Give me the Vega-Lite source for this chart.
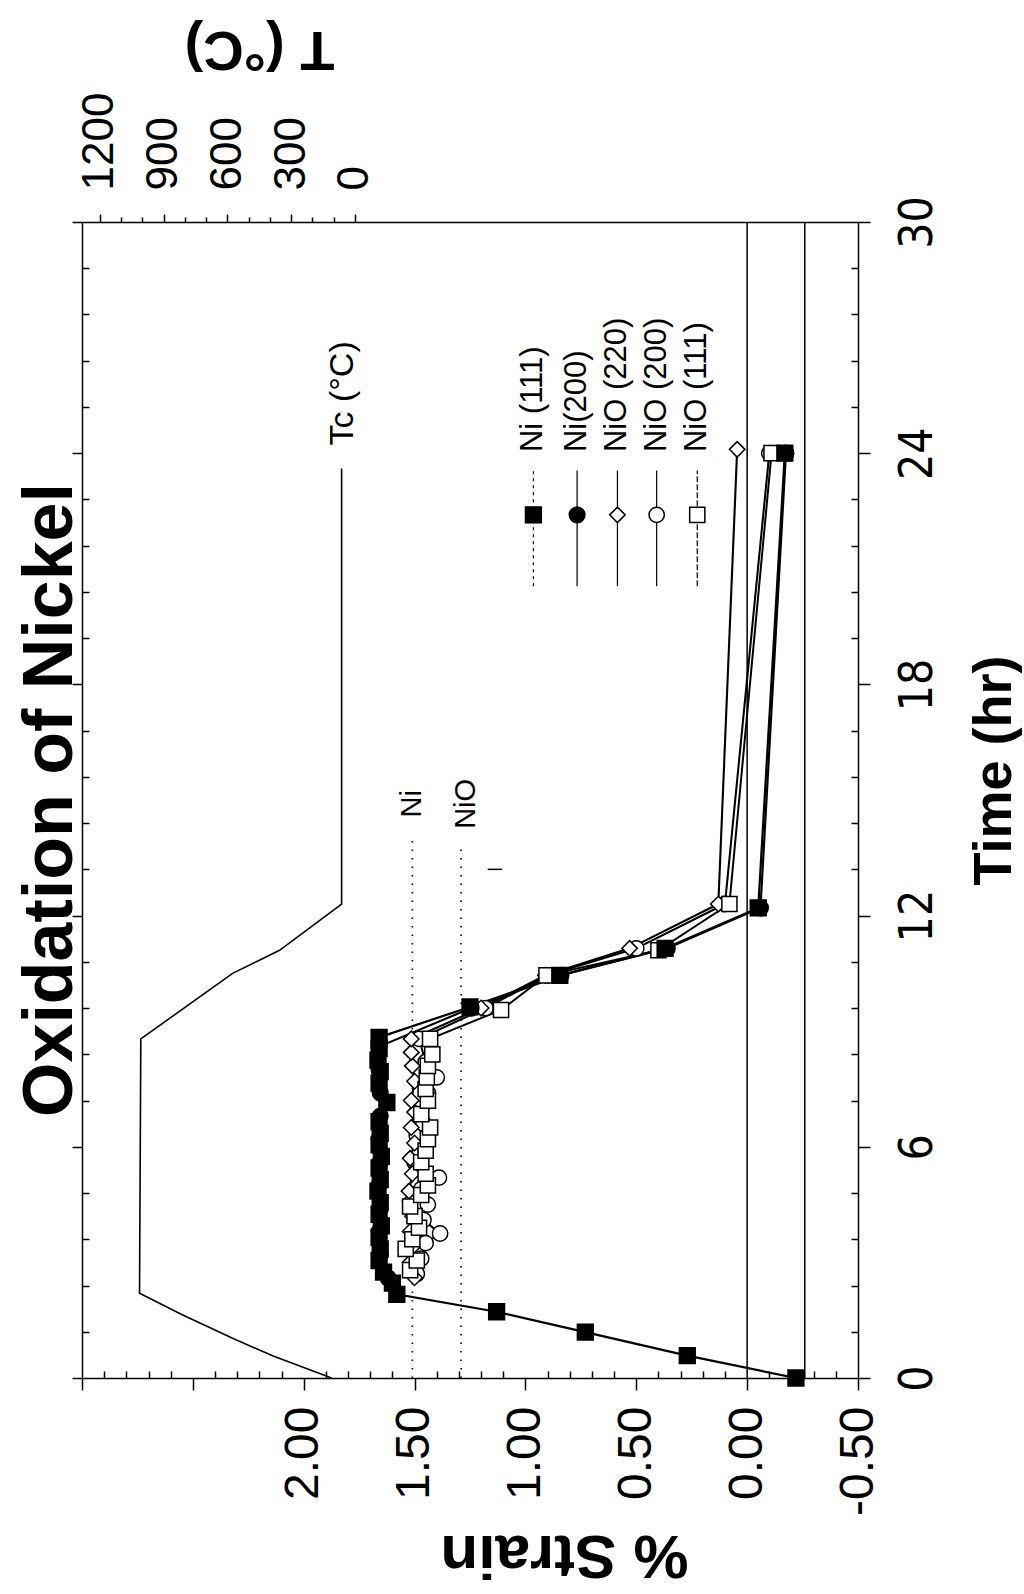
{
  "$schema": "https://vega.github.io/schema/vega-lite/v6.json",
  "width": 776,
  "height": 1156,
  "autosize": {"type": "none"},
  "padding": {"left": 82, "top": 222, "right": 166, "bottom": 216},
  "background": "white",
  "title": {"text": "Oxidation of Nickel", "orient": "left", "anchor": "middle", "baseline": "middle", "offset": -63, "fontSize": 70, "font": "Liberation Sans", "fontWeight": "bold", "color": "black"},
  "config": {
    "view": {"stroke": null},
    "axis": {"grid": false, "domainColor": "black", "domainWidth": 1.5, "tickColor": "black", "tickWidth": 1.5, "labelColor": "black", "titleColor": "black", "labelFont": "Liberation Sans", "titleFont": "Liberation Sans", "labelFlush": false, "labelOverlap": false, "labelBound": false}
  },
  "datasets": {
    "obs": [
      {"series": "NiO (200)", "t": 2.7, "s": 1.49},
      {"series": "NiO (200)", "t": 3.1, "s": 1.47},
      {"series": "NiO (200)", "t": 3.5, "s": 1.45},
      {"series": "NiO (200)", "t": 3.75, "s": 1.385},
      {"series": "NiO (200)", "t": 4.1, "s": 1.46},
      {"series": "NiO (200)", "t": 4.5, "s": 1.44},
      {"series": "NiO (200)", "t": 4.9, "s": 1.47},
      {"series": "NiO (200)", "t": 5.2, "s": 1.39},
      {"series": "NiO (200)", "t": 5.6, "s": 1.5},
      {"series": "NiO (200)", "t": 5.9, "s": 1.45},
      {"series": "NiO (200)", "t": 6.3, "s": 1.49},
      {"series": "NiO (200)", "t": 6.6, "s": 1.46},
      {"series": "NiO (200)", "t": 7.0, "s": 1.47},
      {"series": "NiO (200)", "t": 7.4, "s": 1.44},
      {"series": "NiO (200)", "t": 7.8, "s": 1.4},
      {"series": "NiO (200)", "t": 8.2, "s": 1.45},
      {"series": "NiO (200)", "t": 8.8, "s": 1.48},
      {"series": "NiO (200)", "t": 9.6, "s": 1.18},
      {"series": "NiO (200)", "t": 10.45, "s": 0.9},
      {"series": "NiO (200)", "t": 11.15, "s": 0.5},
      {"series": "NiO (200)", "t": 12.3, "s": 0.1},
      {"series": "NiO (200)", "t": 24.0, "s": -0.1},
      {"series": "NiO (220)", "t": 2.6, "s": 1.5},
      {"series": "NiO (220)", "t": 3.0, "s": 1.52},
      {"series": "NiO (220)", "t": 3.4, "s": 1.51},
      {"series": "NiO (220)", "t": 3.8, "s": 1.52},
      {"series": "NiO (220)", "t": 4.2, "s": 1.51},
      {"series": "NiO (220)", "t": 4.6, "s": 1.52},
      {"series": "NiO (220)", "t": 4.85, "s": 1.525},
      {"series": "NiO (220)", "t": 5.3, "s": 1.51},
      {"series": "NiO (220)", "t": 5.7, "s": 1.52},
      {"series": "NiO (220)", "t": 6.1, "s": 1.5},
      {"series": "NiO (220)", "t": 6.5, "s": 1.515},
      {"series": "NiO (220)", "t": 6.9, "s": 1.5},
      {"series": "NiO (220)", "t": 7.2, "s": 1.515},
      {"series": "NiO (220)", "t": 7.7, "s": 1.5},
      {"series": "NiO (220)", "t": 8.1, "s": 1.51},
      {"series": "NiO (220)", "t": 8.45, "s": 1.515},
      {"series": "NiO (220)", "t": 8.8, "s": 1.515},
      {"series": "NiO (220)", "t": 9.6, "s": 1.2},
      {"series": "NiO (220)", "t": 10.45, "s": 0.91},
      {"series": "NiO (220)", "t": 11.15, "s": 0.53},
      {"series": "NiO (220)", "t": 12.3, "s": 0.13},
      {"series": "NiO (220)", "t": 24.1, "s": 0.045},
      {"series": "NiO (111)", "t": 2.8, "s": 1.52},
      {"series": "NiO (111)", "t": 3.05, "s": 1.49},
      {"series": "NiO (111)", "t": 3.35, "s": 1.54},
      {"series": "NiO (111)", "t": 3.6, "s": 1.51},
      {"series": "NiO (111)", "t": 3.9, "s": 1.48},
      {"series": "NiO (111)", "t": 4.2, "s": 1.5},
      {"series": "NiO (111)", "t": 4.45, "s": 1.52},
      {"series": "NiO (111)", "t": 4.75, "s": 1.47},
      {"series": "NiO (111)", "t": 5.0, "s": 1.44},
      {"series": "NiO (111)", "t": 5.3, "s": 1.45},
      {"series": "NiO (111)", "t": 5.6, "s": 1.47},
      {"series": "NiO (111)", "t": 5.9, "s": 1.45},
      {"series": "NiO (111)", "t": 6.2, "s": 1.44},
      {"series": "NiO (111)", "t": 6.5, "s": 1.43},
      {"series": "NiO (111)", "t": 6.85, "s": 1.47},
      {"series": "NiO (111)", "t": 7.2, "s": 1.44},
      {"series": "NiO (111)", "t": 7.5, "s": 1.45},
      {"series": "NiO (111)", "t": 7.8, "s": 1.445},
      {"series": "NiO (111)", "t": 8.1, "s": 1.44},
      {"series": "NiO (111)", "t": 8.4, "s": 1.42},
      {"series": "NiO (111)", "t": 8.8, "s": 1.43},
      {"series": "NiO (111)", "t": 9.55, "s": 1.11},
      {"series": "NiO (111)", "t": 10.45, "s": 0.905},
      {"series": "NiO (111)", "t": 11.1, "s": 0.4},
      {"series": "NiO (111)", "t": 12.3, "s": 0.08},
      {"series": "NiO (111)", "t": 24.0, "s": -0.11},
      {"series": "Ni(200)", "t": 2.6, "s": 1.62},
      {"series": "Ni(200)", "t": 3.2, "s": 1.655},
      {"series": "Ni(200)", "t": 3.8, "s": 1.66},
      {"series": "Ni(200)", "t": 4.4, "s": 1.655},
      {"series": "Ni(200)", "t": 5.0, "s": 1.66},
      {"series": "Ni(200)", "t": 5.6, "s": 1.655},
      {"series": "Ni(200)", "t": 6.2, "s": 1.66},
      {"series": "Ni(200)", "t": 6.8, "s": 1.655},
      {"series": "Ni(200)", "t": 7.4, "s": 1.655},
      {"series": "Ni(200)", "t": 8.0, "s": 1.66},
      {"series": "Ni(200)", "t": 8.6, "s": 1.66},
      {"series": "Ni(200)", "t": 9.6, "s": 1.245},
      {"series": "Ni(200)", "t": 10.45, "s": 0.84},
      {"series": "Ni(200)", "t": 11.15, "s": 0.36},
      {"series": "Ni(200)", "t": 12.2, "s": -0.06},
      {"series": "Ni(200)", "t": 24.0, "s": -0.175},
      {"series": "Ni (111)", "t": 0, "s": -0.22},
      {"series": "Ni (111)", "t": 0.58, "s": 0.27},
      {"series": "Ni (111)", "t": 1.19, "s": 0.73},
      {"series": "Ni (111)", "t": 1.72, "s": 1.13},
      {"series": "Ni (111)", "t": 2.17, "s": 1.58},
      {"series": "Ni (111)", "t": 2.46, "s": 1.6},
      {"series": "Ni (111)", "t": 2.75, "s": 1.64},
      {"series": "Ni (111)", "t": 3.05, "s": 1.66},
      {"series": "Ni (111)", "t": 3.35, "s": 1.655},
      {"series": "Ni (111)", "t": 3.65, "s": 1.66},
      {"series": "Ni (111)", "t": 3.95, "s": 1.65},
      {"series": "Ni (111)", "t": 4.25, "s": 1.66},
      {"series": "Ni (111)", "t": 4.55, "s": 1.655},
      {"series": "Ni (111)", "t": 4.85, "s": 1.665},
      {"series": "Ni (111)", "t": 5.15, "s": 1.655},
      {"series": "Ni (111)", "t": 5.45, "s": 1.66},
      {"series": "Ni (111)", "t": 5.75, "s": 1.65},
      {"series": "Ni (111)", "t": 6.05, "s": 1.66},
      {"series": "Ni (111)", "t": 6.35, "s": 1.655},
      {"series": "Ni (111)", "t": 6.65, "s": 1.66},
      {"series": "Ni (111)", "t": 7.15, "s": 1.625},
      {"series": "Ni (111)", "t": 7.65, "s": 1.66},
      {"series": "Ni (111)", "t": 7.95, "s": 1.655},
      {"series": "Ni (111)", "t": 8.25, "s": 1.665},
      {"series": "Ni (111)", "t": 8.55, "s": 1.66},
      {"series": "Ni (111)", "t": 8.84, "s": 1.66},
      {"series": "Ni (111)", "t": 9.63, "s": 1.25},
      {"series": "Ni (111)", "t": 10.45, "s": 0.845},
      {"series": "Ni (111)", "t": 11.15, "s": 0.37},
      {"series": "Ni (111)", "t": 12.2, "s": -0.05},
      {"series": "Ni (111)", "t": 24.0, "s": -0.17}
    ],
    "leg": [
      {"series": "Ni (111)", "s": 0.964, "tm": 22.4, "ta": 20.55, "tb": 23.55, "tl": 24.03},
      {"series": "Ni(200)", "s": 0.767, "tm": 22.4, "ta": 20.55, "tb": 23.55, "tl": 24.03},
      {"series": "NiO (220)", "s": 0.585, "tm": 22.4, "ta": 20.55, "tb": 23.55, "tl": 24.03},
      {"series": "NiO (200)", "s": 0.408, "tm": 22.4, "ta": 20.55, "tb": 23.55, "tl": 24.03},
      {"series": "NiO (111)", "s": 0.225, "tm": 22.4, "ta": 20.55, "tb": 23.55, "tl": 24.03}
    ]
  },
  "resolve": {"scale": {"x": "independent"}, "axis": {"x": "independent", "y": "independent"}},
  "layer": [
    {
      "layer": [
        {
          "data": {"values": [
            {"t": 0, "T": 110}, {"t": 0.57, "T": 385}, {"t": 1.03, "T": 576}, {"t": 1.64, "T": 813},
            {"t": 2.2, "T": 1014}, {"t": 8.8, "T": 1008}, {"t": 10.5, "T": 576}, {"t": 11.1, "T": 355},
            {"t": 12.3, "T": 63}, {"t": 23.6, "T": 63}
          ]},
          "mark": {"type": "line", "color": "black", "strokeWidth": 1.6},
          "encoding": {
            "x": {"field": "T", "type": "quantitative",
              "scale": {"domain": [-2367.1, 1284.7], "reverse": true, "nice": false, "zero": false},
              "axis": {"orient": "top", "values": [0,100,200,300,400,500,600,700,800,900,1000,1100,1200],
                "labelExpr": "datum.value % 300 === 0 ? format(datum.value, 'd') : ''",
                "labelOverlap": false,
                "labelAngle": 270, "labelAlign": "left", "labelBaseline": "middle", "labelPadding": 24,
                "labelFontSize": {"condition": {"test": "datum.value % 300 === 0", "value": 44}, "value": 1},
                "tickSize": {"condition": {"test": "datum.value % 300 === 0", "value": 8}, "value": 5},
                "title": "T (°C)", "titleAngle": 180, "titleX": 177, "titleY": -174, "titleAlign": "center", "titleBaseline": "middle", "titleFontSize": 56, "titleFontWeight": "bold"}},
            "y": {"field": "t", "type": "quantitative",
              "scale": {"domain": [0, 30], "nice": false, "zero": false},
              "axis": {"orient": "right", "values": [0,1.2,2.4,3.6,4.8,6,7.2,8.4,9.6,10.8,12,13.2,14.4,15.6,16.8,18,19.2,20.4,21.6,22.8,24,25.2,26.4,27.6,28.8,30],
                "labelExpr": "abs(datum.value/6 - round(datum.value/6)) < 0.01 ? format(datum.value, 'd') : ''",
                "labelOverlap": false,
                "labelAngle": 270, "labelAlign": "center", "labelBaseline": "top", "labelFontSize": 46, "labelFont": "Liberation Sans Narrow, DejaVu Sans Condensed, Liberation Sans", "labelPadding": 25,
                "tickSize": {"condition": {"test": "abs(datum.value/6 - round(datum.value/6)) < 0.01", "value": 12}, "value": -7},
                "title": "Time (hr)", "titleAngle": 270, "titleX": 136, "titleY": 548, "titleAlign": "center", "titleBaseline": "middle", "titleFontSize": 54, "titleFontWeight": "bold"}},
            "order": {"field": "t", "type": "quantitative"}
          }
        },
        {
          "data": {"values": [{"t": 24.2, "T": 55, "label": "Tc (°C)"}]},
          "mark": {"type": "text", "angle": 270, "align": "left", "baseline": "middle", "fontSize": 34, "font": "Liberation Sans", "color": "black"},
          "encoding": {
            "x": {"field": "T", "type": "quantitative"},
            "y": {"field": "t", "type": "quantitative"},
            "text": {"field": "label"}
          }
        }
      ]
    },
    {
      "layer": [
        {
          "data": {"values": [{"s": 0}]},
          "mark": {"type": "rule", "opacity": 0},
          "encoding": {
            "x": {"field": "s", "type": "quantitative",
              "scale": {"domain": [-0.5, 3.0], "reverse": true, "nice": false, "zero": false},
              "axis": {"orient": "bottom", "values": [-0.4,-0.3,-0.2,-0.1,0.1,0.2,0.3,0.4,0.6,0.7,0.8,0.9,1.1,1.2,1.3,1.4,1.6,1.7,1.8,1.9,2.1,2.2,2.3,2.4,2.6,2.7,2.8,2.9],
                "labels": false, "domain": false, "title": null, "tickSize": -7}}
          }
        }
      ]
    },
    {
      "layer": [
        {
          "data": {"values": [{"s": 0}, {"s": -0.26}]},
          "mark": {"type": "rule", "color": "black", "strokeWidth": 1.5},
          "encoding": {
            "x": {"field": "s", "type": "quantitative",
              "scale": {"domain": [-0.5, 3.0], "reverse": true, "nice": false, "zero": false},
              "axis": {"orient": "bottom", "values": [-0.5, 0, 0.5, 1, 1.5, 2, 2.5, 3],
                "labelExpr": "datum.value < 2.01 ? replace(format(datum.value, '.2f'), '−', '-') : ''",
                "labelOverlap": false,
                "labelAngle": 270, "labelAlign": "right", "labelBaseline": "middle", "labelPadding": 16,
                "labelFontSize": 48,
                "tickSize": 12,
                "title": "% Strain", "titleAngle": 180, "titleX": 482, "titleY": 176, "titleAlign": "center", "titleBaseline": "middle", "titleFontSize": 62, "titleFontWeight": "bold"}}
          }
        },
        {
          "data": {"values": [{"s": 1.51, "t": 0, "t2": 14.1}, {"s": 1.29, "t": 0, "t2": 13.85}]},
          "mark": {"type": "rule", "color": "black", "strokeWidth": 1.6, "strokeDash": [1.5, 7]},
          "encoding": {
            "x": {"field": "s", "type": "quantitative"},
            "y": {"field": "t", "type": "quantitative",
              "scale": {"domain": [0, 30], "nice": false, "zero": false},
              "axis": {"orient": "left", "values": [0,1.2,2.4,3.6,4.8,6,7.2,8.4,9.6,10.8,12,13.2,14.4,15.6,16.8,18,19.2,20.4,21.6,22.8,24,25.2,26.4,27.6,28.8,30],
                "labels": false, "title": null,
                "tickSize": {"condition": {"test": "abs(datum.value/6 - round(datum.value/6)) < 0.01", "value": 10}, "value": -7}}},
            "y2": {"field": "t2"}
          }
        },
        {
          "data": {"values": [{"s": 1.17, "s2": 1.105, "t": 13.2}]},
          "mark": {"type": "rule", "color": "black", "strokeWidth": 1.5},
          "encoding": {
            "x": {"field": "s", "type": "quantitative"},
            "x2": {"field": "s2"},
            "y": {"field": "t", "type": "quantitative"}
          }
        },
        {
          "data": {"name": "obs"},
          "mark": {"type": "line", "color": "black"},
          "encoding": {
            "x": {"field": "s", "type": "quantitative"},
            "y": {"field": "t", "type": "quantitative"},
            "detail": {"field": "series"},
            "order": {"field": "t", "type": "quantitative"},
            "strokeWidth": {"field": "series", "type": "nominal", "legend": null,
              "scale": {"domain": ["Ni (111)", "Ni(200)", "NiO (220)", "NiO (200)", "NiO (111)"], "range": [2.2, 2.0, 1.3, 1.3, 1.3]}}
          }
        },
        {
          "data": {"name": "obs"},
          "mark": {"type": "point", "filled": true, "stroke": "black", "strokeWidth": 1.5, "opacity": 1},
          "encoding": {
            "x": {"field": "s", "type": "quantitative"},
            "y": {"field": "t", "type": "quantitative"},
            "shape": {"field": "series", "type": "nominal", "legend": null,
              "scale": {"domain": ["Ni (111)", "Ni(200)", "NiO (220)", "NiO (200)", "NiO (111)"], "range": ["square", "circle", "diamond", "circle", "square"]}},
            "fill": {"field": "series", "type": "nominal", "legend": null,
              "scale": {"domain": ["Ni (111)", "Ni(200)", "NiO (220)", "NiO (200)", "NiO (111)"], "range": ["black", "black", "white", "white", "white"]}},
            "size": {"field": "series", "type": "nominal", "legend": null,
              "scale": {"domain": ["Ni (111)", "Ni(200)", "NiO (220)", "NiO (200)", "NiO (111)"], "range": [250, 230, 170, 270, 240]}}
          }
        },
        {
          "data": {"name": "leg"},
          "mark": {"type": "rule", "color": "black", "strokeWidth": 1.2},
          "encoding": {
            "x": {"field": "s", "type": "quantitative"},
            "y": {"field": "ta", "type": "quantitative"},
            "y2": {"field": "tb"},
            "strokeDash": {"field": "series", "type": "nominal", "legend": null,
              "scale": {"domain": ["Ni (111)", "Ni(200)", "NiO (220)", "NiO (200)", "NiO (111)"], "range": [[3, 4], [1, 0], [1, 0], [1, 0], [6, 2]]}}
          }
        },
        {
          "data": {"name": "leg"},
          "mark": {"type": "point", "filled": true, "stroke": "black", "strokeWidth": 1.5, "opacity": 1},
          "encoding": {
            "x": {"field": "s", "type": "quantitative"},
            "y": {"field": "tm", "type": "quantitative"},
            "shape": {"field": "series", "type": "nominal", "legend": null},
            "fill": {"field": "series", "type": "nominal", "legend": null},
            "size": {"field": "series", "type": "nominal", "legend": null}
          }
        },
        {
          "data": {"name": "leg"},
          "mark": {"type": "text", "angle": 270, "align": "left", "baseline": "middle", "fontSize": 31, "font": "Liberation Sans", "color": "black"},
          "encoding": {
            "x": {"field": "s", "type": "quantitative"},
            "y": {"field": "tl", "type": "quantitative"},
            "text": {"field": "series"}
          }
        },
        {
          "data": {"values": [{"s": 1.51, "t": 14.9, "label": "Ni"}, {"s": 1.268, "t": 14.9, "label": "NiO"}]},
          "mark": {"type": "text", "angle": 270, "align": "center", "baseline": "middle", "fontSize": 29, "font": "Liberation Sans", "color": "black"},
          "encoding": {
            "x": {"field": "s", "type": "quantitative"},
            "y": {"field": "t", "type": "quantitative"},
            "text": {"field": "label"}
          }
        }
      ]
    }
  ]
}
